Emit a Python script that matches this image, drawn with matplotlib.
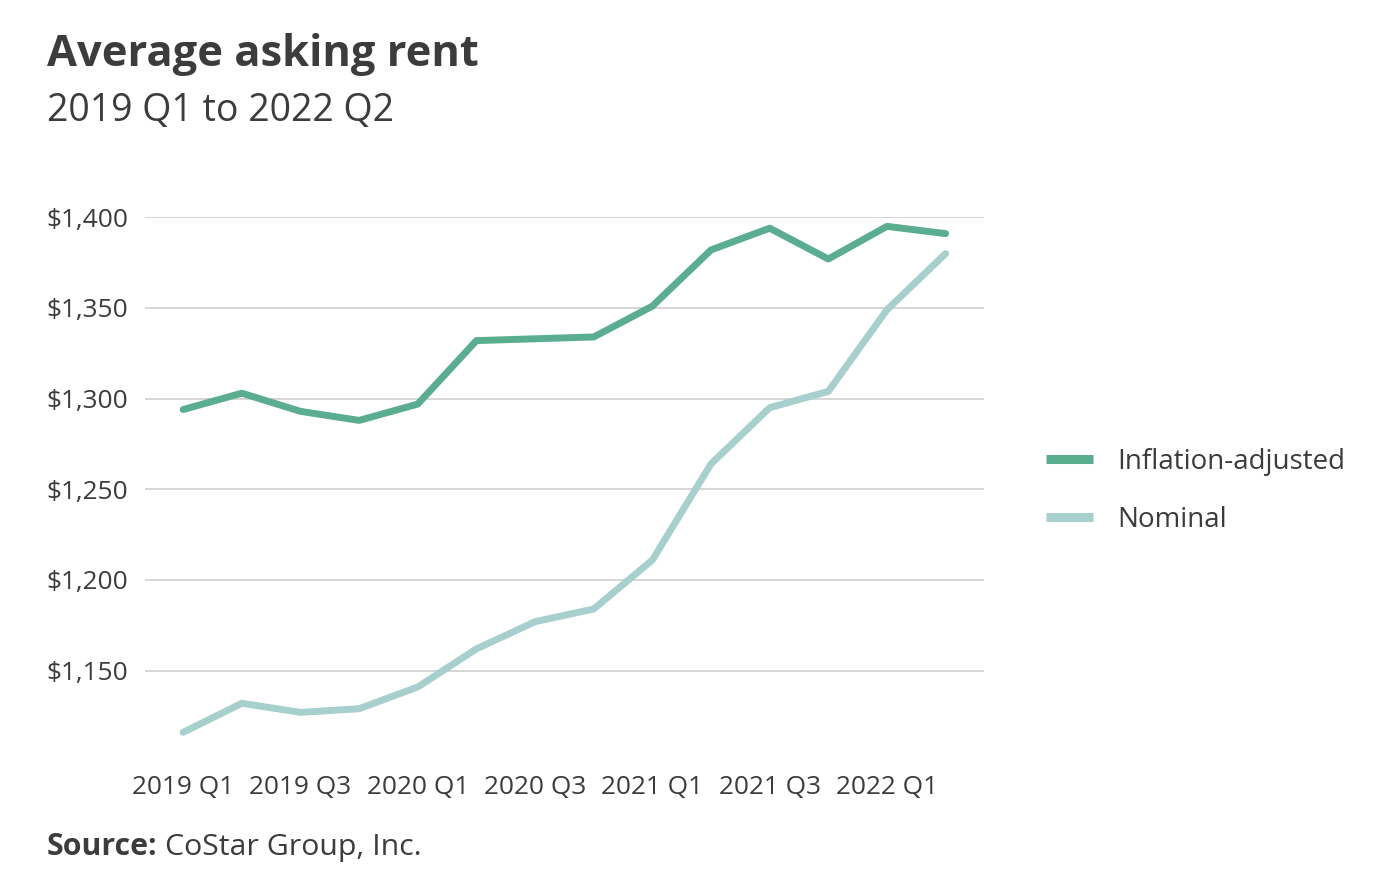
import matplotlib
matplotlib.use("Agg")
import matplotlib.pyplot as plt
from matplotlib.ticker import FuncFormatter

plt.rcParams['font.family'] = ['Open Sans', 'DejaVu Sans']

quarters = ["2019 Q1", "2019 Q2", "2019 Q3", "2019 Q4",
            "2020 Q1", "2020 Q2", "2020 Q3", "2020 Q4",
            "2021 Q1", "2021 Q2", "2021 Q3", "2021 Q4",
            "2022 Q1", "2022 Q2"]
inflation_adjusted = [1294, 1303, 1293, 1288, 1297, 1332, 1333, 1334,
                      1351, 1382, 1394, 1377, 1395, 1391]
nominal = [1116, 1132, 1127, 1129, 1141, 1162, 1177, 1184,
           1211, 1264, 1295, 1304, 1349, 1380]
y_ticks = [1150, 1200, 1250, 1300, 1350, 1400]

TEXT = "#3a3c3e"
C_INF = "#5bad8f"
C_NOM = "#a7cfcd"

fig = plt.figure(figsize=(13.92, 8.92), dpi=100)
ax = fig.add_axes([0.1042, 0.1465, 0.6025, 0.6099])

x = list(range(len(quarters)))
ax.plot(x, inflation_adjusted, color=C_INF, lw=5.0, solid_capstyle='round',
        solid_joinstyle='round', label="Inflation-adjusted", clip_on=False, zorder=3)
ax.plot(x, nominal, color=C_NOM, lw=5.0, solid_capstyle='round',
        solid_joinstyle='round', label="Nominal", clip_on=False, zorder=3)

ax.set_xlim(-0.65, len(quarters) - 1 + 0.65)
ax.set_ylim(1100, 1400)
ax.set_yticks(y_ticks)
ax.yaxis.set_major_formatter(FuncFormatter(lambda v, p: f"${v:,.0f}"))
ax.set_xticks(x[::2])
ax.set_xticklabels(quarters[::2])
ax.grid(axis='y', color='#cccccc', lw=1.1)
ax.set_axisbelow(True)
for s in ax.spines.values():
    s.set_visible(False)
ax.tick_params(axis='y', length=0, pad=12, labelsize=18.9, labelcolor=TEXT)
ax.tick_params(axis='x', length=0, pad=10, labelsize=18.9, labelcolor=TEXT)

leg = ax.legend(loc='center left', bbox_to_anchor=(1.0743, 0.497), frameon=False,
                fontsize=20, handlelength=1.7, handletextpad=0.86,
                labelspacing=1.1, borderaxespad=0, borderpad=0)
for t in leg.get_texts():
    t.set_color(TEXT)
for h in leg.get_lines():
    h.set_linewidth(6.5)
    h.set_solid_capstyle('butt')

fig.text(47/1392, 1 - 54/892, "Average asking rent", fontsize=31.3, fontweight='bold',
         color=TEXT, va='center', ha='left')
fig.text(47/1392, 1 - 111/892, "2019 Q1 to 2022 Q2", fontsize=27,
         color=TEXT, va='center', ha='left')
src = fig.text(47/1392, 1 - 847/892, "Source:", fontsize=21.8, fontweight='bold',
               color=TEXT, va='center', ha='left')
fig.canvas.draw()
bb = src.get_window_extent()
fig.text((bb.x1 + 7) / 1392, 1 - 847/892, "CoStar Group, Inc.", fontsize=21.8,
         color=TEXT, va='center', ha='left')

fig.savefig("out.png", dpi=100)
